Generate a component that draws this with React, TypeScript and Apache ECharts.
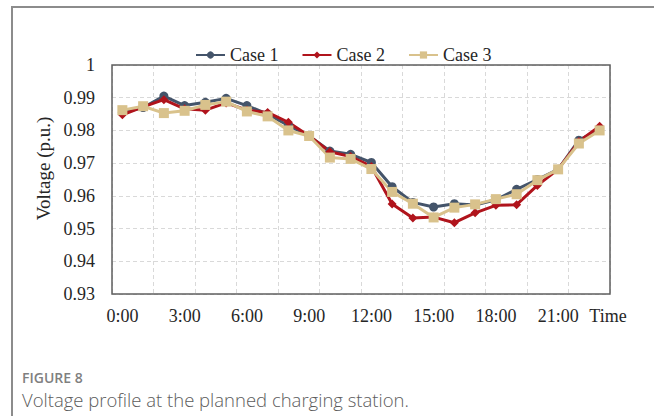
import React, { useEffect, useRef } from "react";
import * as echarts from "echarts";

const hours = [
  "0:00", "1:00", "2:00", "3:00", "4:00", "5:00", "6:00", "7:00",
  "8:00", "9:00", "10:00", "11:00", "12:00", "13:00", "14:00", "15:00",
  "16:00", "17:00", "18:00", "19:00", "20:00", "21:00", "22:00", "23:00",
];

const case1 = [
  0.9855, 0.987, 0.9905, 0.9876, 0.9886, 0.9898, 0.9876, 0.985,
  0.9815, 0.9783, 0.9737, 0.9727, 0.9702, 0.9628, 0.958, 0.9566,
  0.9576, 0.9572, 0.9588, 0.962, 0.965, 0.9681, 0.977, 0.9805,
];
const case2 = [
  0.9848, 0.9872, 0.9894, 0.9866, 0.9862, 0.9884, 0.9862, 0.9855,
  0.9825, 0.9783, 0.9735, 0.972, 0.969, 0.9575, 0.9532, 0.9535,
  0.9518, 0.9548, 0.9571, 0.9573, 0.9632, 0.9681, 0.9766, 0.9813,
];
const case3 = [
  0.9862, 0.9874, 0.9853, 0.986, 0.9878, 0.9888, 0.9858, 0.9843,
  0.98, 0.9783, 0.9717, 0.9713, 0.9682, 0.9612, 0.9576, 0.9534,
  0.9564, 0.9574, 0.959, 0.9605, 0.9648, 0.9681, 0.976, 0.98,
];

const seriesNames = ["Case 1", "Case 2", "Case 3"];
const yMin = 0.93;
const yMax = 1;
const yStep = 0.01;
const yTitle = "Voltage (p.u.)";
const xTitle = "Time";
const figLabel = "FIGURE 8";
const caption = "Voltage profile at the planned charging station.";

const colors = ["#44546A", "#B0141C", "#D9C28C"];
const serif = "Liberation Serif";
const textColor = "#262626";

export default function App() {
  const ref = useRef<HTMLDivElement>(null);
  useEffect(() => {
    if (!ref.current) return;
    const chart = echarts.init(ref.current, null, { renderer: "svg" });
    const mk = (name: string, data: number[], color: string, symbol: string, size: number) => ({
      name,
      type: "line",
      data,
      symbol,
      symbolSize: size,
      showSymbol: true,
      lineStyle: { color, width: 3 },
      itemStyle: { color },
    });
    chart.setOption({
      animation: false,
      backgroundColor: "#ffffff",
      legend: {
        top: 41,
        left: 190,
        itemWidth: 29,
        itemHeight: 9,
        itemGap: 23,
        textStyle: { fontFamily: serif, fontSize: 18, color: textColor },
        data: seriesNames,
      },
      grid: {
        left: 112,
        top: 65,
        right: 44,
        bottom: 122,
        show: true,
        z: 5,
        borderColor: "#5f5f5f",
        borderWidth: 1.5,
        backgroundColor: "transparent",
      },
      xAxis: {
        type: "category",
        data: hours,
        boundaryGap: true,
        axisLine: { show: false },
        axisTick: { show: false },
        axisLabel: {
          interval: 2,
          margin: 13,
          fontFamily: serif,
          fontSize: 18,
          color: textColor,
        },
        splitLine: {
          show: true,
          interval: 1,
          lineStyle: { color: "#d9d9d9", type: [4, 3], width: 1 },
        },
        name: xTitle,
        nameLocation: "end",
        nameGap: -2,
        nameTextStyle: {
          fontFamily: serif,
          fontSize: 18,
          color: textColor,
          align: "center",
          verticalAlign: "top",
          padding: [13, 0, 0, 0],
        },
      },
      yAxis: {
        type: "value",
        min: yMin,
        max: yMax,
        interval: yStep,
        axisLine: { show: false },
        axisTick: { show: false },
        axisLabel: {
          margin: 17,
          fontFamily: serif,
          fontSize: 18,
          color: textColor,
          formatter: (v: number) => String(parseFloat(v.toFixed(2))),
        },
        splitLine: {
          show: true,
          lineStyle: { color: "#d9d9d9", type: [4, 3], width: 1 },
        },
        name: yTitle,
        nameLocation: "middle",
        nameGap: 58,
        nameTextStyle: {
          fontFamily: serif,
          fontSize: 19,
          color: textColor,
          padding: [0, 0, 0, 22],
        },
      },
      graphic: [
        {
          type: "polyline",
          shape: { points: [[12, 416], [12, 7], [654, 7]] },
          style: { stroke: "#8c8c8c", lineWidth: 2, fill: "none" },
          silent: true,
        },
        {
          type: "text",
          left: 22,
          top: 370,
          style: {
            text: figLabel,
            fontFamily: "Open Sans",
            fontSize: 14,
            lineHeight: 15,
            fontWeight: 600,
            fill: "#808080",
          },
        },
        {
          type: "text",
          left: 22,
          top: 389,
          style: {
            text: caption,
            fontFamily: "Open Sans",
            fontSize: 18.5,
            lineHeight: 20,
            fontWeight: 300,
            fill: "#5c5c5c",
          },
        },
      ],
      series: [
        mk(seriesNames[0], case1, colors[0], "circle", 9),
        mk(seriesNames[1], case2, colors[1], "diamond", 9),
        mk(seriesNames[2], case3, colors[2], "rect", 10),
      ],
    });
    return () => chart.dispose();
  }, []);
  return (
    <div
      ref={ref}
      style={{ position: "fixed", left: 0, top: 0, width: 654, height: 416, background: "#fff" }}
    />
  );
}
